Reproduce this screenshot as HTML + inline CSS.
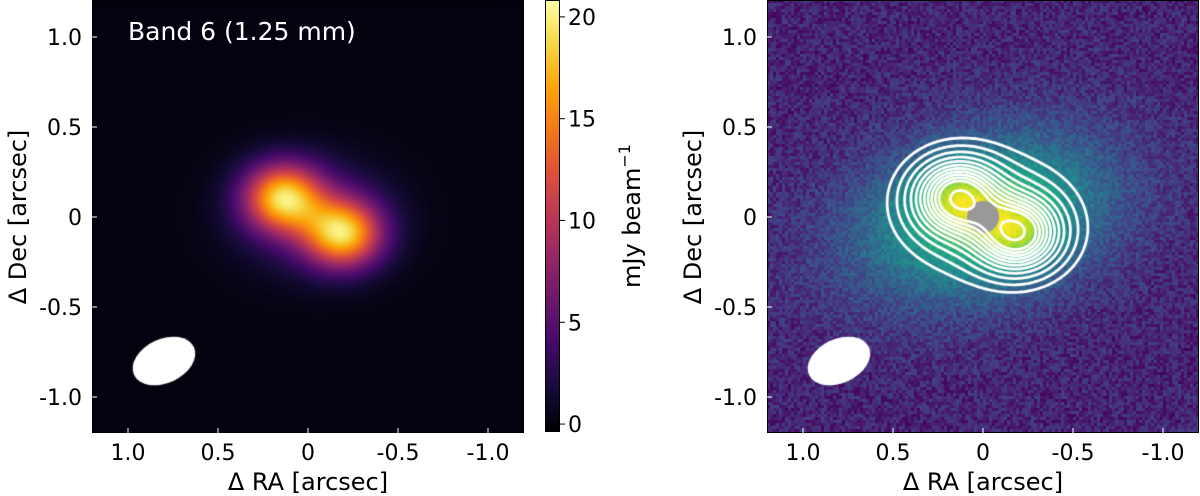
<!DOCTYPE html>
<html><head><meta charset="utf-8">
<style>
body{margin:0;background:#fff;width:1200px;height:496px;overflow:hidden;position:relative;font-family:"DejaVu Sans","Liberation Sans",sans-serif}
canvas{position:absolute}
svg{position:absolute;left:0;top:0}
</style></head>
<body>
<canvas id="left" width="432" height="433" style="left:92px;top:0"></canvas>
<canvas id="right" width="432" height="433" style="left:767px;top:0"></canvas>
<div style="position:absolute;left:545px;top:0;width:15px;height:432px;border:1px solid #000;box-sizing:border-box;background:linear-gradient(to top,#000004 0%,#160b39 10%,#420a68 20%,#6a176e 30%,#932667 40%,#bc3754 50%,#dd513a 60%,#f37819 70%,#fca50a 80%,#f6d746 90%,#fcffa4 100%)"></div>
<svg id="ov" width="1200" height="496" xmlns="http://www.w3.org/2000/svg"></svg>
<script>
// ---- data ----
const srcRA=[0.14,-0.19];
const srcDec=[0.11,-0.09];
const srcAmp=[16.5,16.5];
const coreSigX=[0.15], coreSigY=[0.13];
const envAmp=[4], envSigX=[0.3], envSigY=[0.22];
const contourLevels=[1.2,2.2,3.5,5,6.5,8,9.5,11,12.5,14,15.5,19];
const axisTicks=[1.0,0.5,0,-0.5,-1.0];
const axisTickLabels=["1.0","0.5","0","-0.5","-1.0"];
const cbarTicks=[0,5,10,15,20];
const cbarRange=[-0.39,20.83];
const beamRA=[0.8],beamDec=[-0.8];
const haloAmp=[0.55],haloSigU=[0.5],haloSigV=[0.3],haloPA=[-15];

const PX=180, W=432, H=433;
function mm(ra,dec){let v=0;
for(let k=0;k<srcRA.length;k++){const dx=ra-srcRA[k],dy=dec-srcDec[k];v+=srcAmp[k]*Math.exp(-(dx*dx/(2*coreSigX[0]**2)+dy*dy/(2*coreSigY[0]**2)));}
const mx=(srcRA[0]+srcRA[1])/2,my=(srcDec[0]+srcDec[1])/2,ex=ra-mx,ey=dec-my;
v+=envAmp[0]*Math.exp(-(ex*ex/(2*envSigX[0]**2)+ey*ey/(2*envSigY[0]**2)));
return v;}
function lerpMap(stops,t){t=Math.max(0,Math.min(1,t));const n=stops.length-1,i=Math.min(n-1,Math.floor(t*n)),f=t*n-i;const a=stops[i],b=stops[i+1];return [0,1,2].map(c=>Math.round(a[c]+(b[c]-a[c])*f));}
function hex(h){return [1,3,5].map(i=>parseInt(h.substr(i,2),16));}
const inferno=["#000004","#160b39","#420a68","#6a176e","#932667","#bc3754","#dd513a","#f37819","#fca50a","#f6d746","#fcffa4"].map(hex);
const viridis=["#440154","#482475","#414487","#355f8d","#2a788e","#21918c","#22a884","#44bf70","#7ad151","#bddf26","#fde725"].map(hex);
const cx=W/2, cy=217;
function toRA(px){return (cx-px)/PX;} function toDec(py){return (cy-py)/PX;}
// left image
(function(){const c=document.getElementById('left').getContext('2d');const img=c.createImageData(W,H);
for(let y=0;y<H;y++)for(let x=0;x<W;x++){const v=mm(toRA(x),toDec(y));const col=lerpMap(inferno,(v-cbarRange[0])/(cbarRange[1]-cbarRange[0]));const i=(y*W+x)*4;img.data[i]=col[0];img.data[i+1]=col[1];img.data[i+2]=col[2];img.data[i+3]=255;}
c.putImageData(img,0,0);
c.fillStyle='#fff';c.beginPath();c.ellipse(cx-beamRA[0]*PX,cy-beamDec[0]*PX,33,22,-25*Math.PI/180,0,2*Math.PI);c.fill();})();
// right image
function hash(i,j){let h=(i*374761393+j*668265263)|0;h=(h^(h>>>13))*1274126177|0;return ((h^(h>>>16))>>>0)/4294967295;}
(function(){const c=document.getElementById('right').getContext('2d');const ps=3;
const a=haloPA[0]*Math.PI/180;
for(let j=0;j<Math.ceil(H/ps);j++)for(let i=0;i<W/ps;i++){const ra=toRA(i*ps+1.5),de=toDec(j*ps+1.5);
const u=-ra*Math.cos(a)-de*Math.sin(a), v=ra*Math.sin(a)-de*Math.cos(a);
let val=0.1+haloAmp[0]*Math.exp(-(u*u/(2*haloSigU[0]**2)+v*v/(2*haloSigV[0]**2)));
val+=0.38*mm(ra,de)/20;
val+=(hash(i,j)-0.5)*0.2*(1-val*0.8);
const col=lerpMap(viridis,val);c.fillStyle=`rgb(${col})`;c.fillRect(i*ps,j*ps,ps,ps);}
c.fillStyle='#999';c.beginPath();c.arc(cx,cy,16,0,2*Math.PI);c.fill();
// contours via marching squares
const st=2,nx=Math.ceil(W/st)+1,ny=Math.ceil(H/st)+1,g=[];
for(let j=0;j<ny;j++){g[j]=[];for(let i=0;i<nx;i++)g[j][i]=mm(toRA(i*st),toDec(j*st));}
c.strokeStyle='#fff';c.lineWidth=2.8;c.lineCap='round';
contourLevels.forEach(L=>{c.beginPath();
for(let j=0;j<ny-1;j++)for(let i=0;i<nx-1;i++){const v0=g[j][i],v1=g[j][i+1],v2=g[j+1][i+1],v3=g[j+1][i];const p=[];
const e=(va,vb,xa,ya,xb,yb)=>{if((va<L)!==(vb<L)){const t=(L-va)/(vb-va);p.push([(xa+(xb-xa)*t)*st,(ya+(yb-ya)*t)*st]);}};
e(v0,v1,i,j,i+1,j);e(v1,v2,i+1,j,i+1,j+1);e(v2,v3,i+1,j+1,i,j+1);e(v3,v0,i,j+1,i,j);
for(let k=0;k+1<p.length;k+=2){c.moveTo(p[k][0],p[k][1]);c.lineTo(p[k+1][0],p[k+1][1]);}}
c.stroke();});
c.fillStyle='#fff';c.beginPath();c.ellipse(cx-beamRA[0]*PX,cy-beamDec[0]*PX,33,22,-25*Math.PI/180,0,2*Math.PI);c.fill();})();
// axes
const svg=document.getElementById('ov');const NS='http://www.w3.org/2000/svg';
function el(t,at,txt){const e=document.createElementNS(NS,t);for(const k in at)e.setAttribute(k,at[k]);if(txt!==undefined)e.textContent=txt;svg.appendChild(e);return e;}
[[92,'left'],[767,'right']].forEach(([x0,nm])=>{
const f=el('rect',{x:x0+0.5,y:0.5,width:W-1,height:H-1,fill:'none',stroke:'#000','stroke-width':1});

axisTicks.forEach((t,k)=>{const tx=x0+cx-t*PX,ty=cy-t*PX;
el('line',{x1:tx,y1:H,x2:tx,y2:H-5,stroke:'#fff','stroke-width':1});
el('line',{x1:x0,y1:ty,x2:x0+5,y2:ty,stroke:'#fff','stroke-width':1});
const xl=el('text',{x:tx,y:460,'font-size':22,'text-anchor':'middle',fill:'#000'},axisTickLabels[k]);

const yl=el('text',{x:x0-10,y:ty+8,'font-size':22,'text-anchor':'end',fill:'#000'},axisTickLabels[k]);
});
const xt=el('text',{x:x0+cx,y:490,'font-size':24,'text-anchor':'middle'},'Δ RA [arcsec]');

const yt=el('text',{x:0,y:0,'font-size':24,'text-anchor':'middle',transform:`translate(${x0-66},${cy}) rotate(-90)`},'Δ Dec [arcsec]');
});
const bt=el('text',{x:128,y:40,'font-size':25,fill:'#fff'},'Band 6 (1.25 mm)');

cbarTicks.forEach(t=>{const y=(cbarRange[1]-t)/(cbarRange[1]-cbarRange[0])*432;
el('line',{x1:560,y1:y,x2:565,y2:y,stroke:'#000'});
const l=el('text',{x:568,y:y+8,'font-size':22},String(t));
});
const ct=el('text',{x:0,y:0,'font-size':24,'text-anchor':'middle',transform:'translate(640,216) rotate(-90)'});

ct.innerHTML='mJy beam<tspan dy="-10" font-size="16">−1</tspan>';
</script>
</body></html>
